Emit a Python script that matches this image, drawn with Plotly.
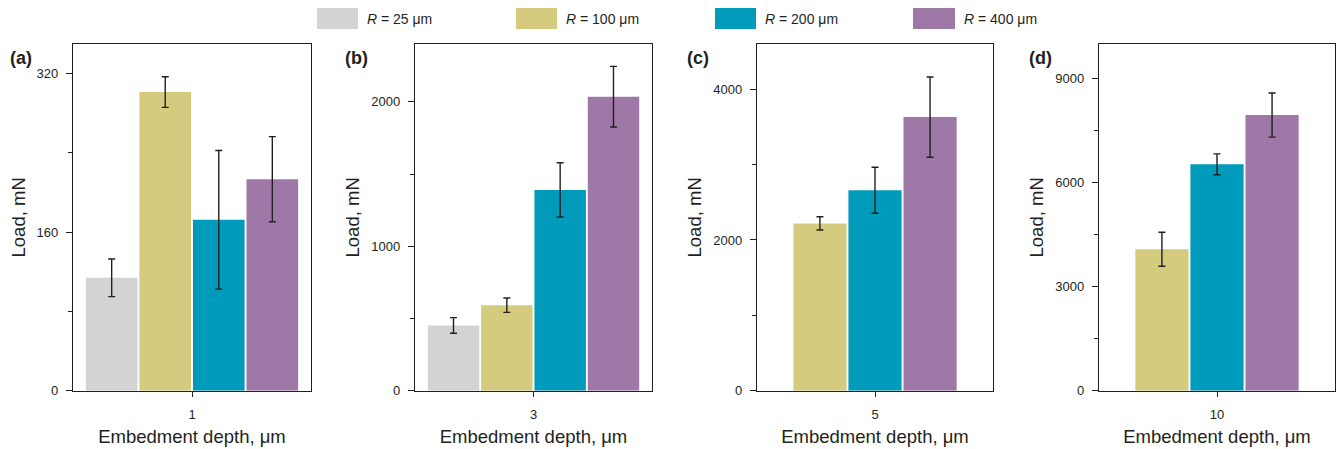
import plotly.graph_objects as go

# ---------------- data ----------------
depths = ["1", "3", "5", "10"]          # embedment depth, µm (one panel each)
panel_tags = ["(a)", "(b)", "(c)", "(d)"]
series_names = ["<i>R</i> = 25 μm", "<i>R</i> = 100 μm", "<i>R</i> = 200 μm", "<i>R</i> = 400 μm"]

load_r25 = [114, 452, None, None]
load_r100 = [301.5, 592, 2220, 4080]
load_r200 = [172.5, 1390, 2660, 6530]
load_r400 = [213.5, 2035, 3630, 7950]

err_r25 = [19, 54, None, None]
err_r100 = [15.5, 50, 88, 490]
err_r200 = [70, 188, 305, 300]
err_r400 = [43, 210, 533, 635]

y_max = [350, 2400, 4600, 10000]
y_ticks = [[0, 160, 320], [0, 1000, 2000], [0, 2000, 4000], [0, 3000, 6000, 9000]]
y_minor = [80, 500, 1000, 1500]

# ---------------- style ----------------
colors = ["#D3D3D3", "#D4CB7E", "#009ABA", "#9E78A6"]
ink = "#231F20"
font_family = "Liberation Sans, Arial, sans-serif"
W, H = 1340, 449
x_dom_px = [(73, 311), (415, 652), (757, 993), (1099, 1335)]
y_dom = [(H - 390.7) / H, (H - 44) / H]
group_width = [0.9, 0.9, 0.7, 0.7]
bar_gap = 0.008
tag_x_px = [8, 343, 685, 1027]
legend_sw_px = [(317, 358), (516, 557), (715, 756), (913, 955)]

loads = [load_r25, load_r100, load_r200, load_r400]
errs = [err_r25, err_r100, err_r200, err_r400]

fig = go.Figure()

for p, depth in enumerate(depths):
    ax = "" if p == 0 else str(p + 1)
    present = [s for s in range(len(series_names)) if loads[s][p] is not None]
    n = len(present)
    gw = group_width[p]
    pitch = gw / n
    for k, s in enumerate(present):
        off = -gw / 2 + k * pitch + bar_gap / 2
        fig.add_trace(go.Bar(
            x=[depth], y=[loads[s][p]],
            width=[pitch - bar_gap], offset=[off],
            marker=dict(color=colors[s], line=dict(width=0)),
            error_y=dict(type="data", array=[errs[s][p]], color=ink,
                         thickness=1.4, width=3.5),
            name=series_names[s], legendgroup=series_names[s],
            showlegend=False,
            xaxis="x" + ax, yaxis="y" + ax,
        ))

    x0, x1 = x_dom_px[p]
    fig.layout["xaxis" + ax] = dict(
        domain=[x0 / W, x1 / W], anchor="y" + ax, type="category",
        range=[-0.5, 0.5], showline=True, mirror=True, linecolor=ink,
        linewidth=1.3, ticks="outside", ticklen=5, tickcolor=ink, tickwidth=1.2,
        tickfont=dict(size=13, color=ink, family=font_family),
        ticklabelstandoff=7, automargin=False,
        showgrid=False, zeroline=False, fixedrange=True,
        title=dict(text="Embedment depth, μm", standoff=8,
                   font=dict(size=18.5, color=ink, family=font_family)),
    )
    fig.layout["yaxis" + ax] = dict(
        domain=list(y_dom), anchor="x" + ax, range=[0, y_max[p]],
        tickvals=y_ticks[p], showline=True, mirror=True, linecolor=ink,
        linewidth=1.3, ticks="outside", ticklen=6, tickcolor=ink, tickwidth=1.2,
        minor=dict(ticks="outside", dtick=y_minor[p], tick0=0, ticklen=4,
                   tickcolor=ink, tickwidth=1.2, showgrid=False),
        tickfont=dict(size=13, color=ink, family=font_family),
        ticklabelstandoff=5, automargin=False,
        showgrid=False, zeroline=False, fixedrange=True,
        title=dict(text="Load, mN", standoff=6,
                   font=dict(size=18.5, color=ink, family=font_family)),
    )
    fig.add_annotation(
        text="<b>" + panel_tags[p] + "</b>", xref="paper", yref="paper",
        x=tag_x_px[p] / W, y=(H - 58) / H, xanchor="left", yanchor="middle",
        showarrow=False, font=dict(size=18, color=ink, family=font_family),
    )

# legend drawn as swatches + text
for s, name in enumerate(series_names):
    a, b = legend_sw_px[s]
    fig.add_shape(type="rect", xref="paper", yref="paper",
                  x0=a / W, x1=b / W, y0=(H - 29) / H, y1=(H - 8) / H,
                  fillcolor=colors[s], line=dict(width=0))
    fig.add_annotation(text=name, xref="paper", yref="paper",
                       x=(b + 7) / W, y=(H - 18.5) / H, xanchor="left",
                       yanchor="middle", showarrow=False,
                       font=dict(size=14, color=ink, family=font_family))

fig.update_layout(
    width=W, height=H, margin=dict(l=0, r=0, t=0, b=0, autoexpand=False),
    paper_bgcolor="white", plot_bgcolor="white",
    barmode="overlay", showlegend=False,
    font=dict(family=font_family, color=ink),
)

fig.write_html("out.html")
